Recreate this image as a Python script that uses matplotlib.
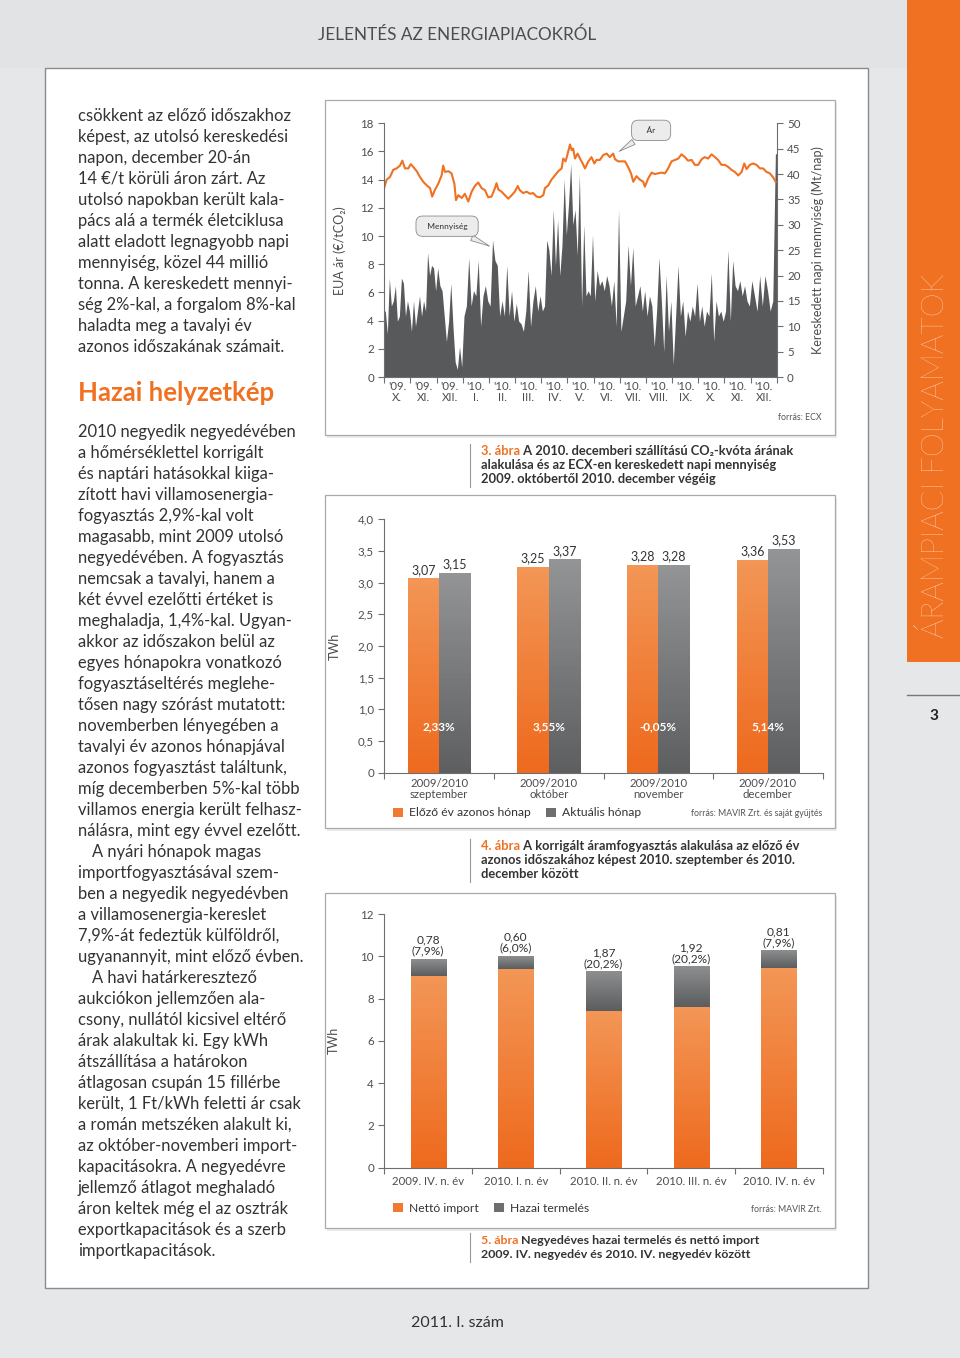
import numpy as np
import matplotlib.pyplot as plt
from matplotlib.colors import LinearSegmentedColormap
from matplotlib.patches import Rectangle, Patch

plt.rcParams['font.family'] = ['Lato', 'DejaVu Sans']

W, H = 960, 1358
ORANGE = '#f07122'
TXT = '#333333'
AXC = '#6d6e71'
LBL = '#4d4d4f'

# ---------------- 3. ábra: CO2 price and traded volume ----------------
month_labels = ["'09.\nX.", "'09.\nXI.", "'09.\nXII.", "'10.\nI.", "'10.\nII.",
                "'10.\nIII.", "'10.\nIV.", "'10.\nV.", "'10.\nVI.", "'10.\nVII.",
                "'10.\nVIII.", "'10.\nIX.", "'10.\nX.", "'10.\nXI.", "'10.\nXII."]

# time in months since 1 Oct 2009
price_t = [0.00, 0.09, 0.22, 0.34, 0.47, 0.60, 0.69, 0.79, 0.92, 1.01,
           1.11, 1.24, 1.36, 1.49, 1.62, 1.75, 1.83, 1.94, 2.06, 2.19,
           2.25, 2.32, 2.45, 2.57, 2.68, 2.74, 2.83, 2.96, 3.08, 3.21,
           3.34, 3.46, 3.59, 3.72, 3.85, 3.97, 4.10, 4.23, 4.29, 4.36,
           4.48, 4.61, 4.74, 4.87, 4.99, 5.10, 5.18, 5.31, 5.44, 5.57,
           5.69, 5.82, 5.95, 6.08, 6.14, 6.27, 6.39, 6.52, 6.65, 6.78,
           6.84, 6.93, 7.01, 7.10, 7.16, 7.22, 7.29, 7.39, 7.48, 7.57,
           7.67, 7.80, 7.92, 8.03, 8.11, 8.24, 8.37, 8.50, 8.62, 8.75,
           8.82, 8.94, 9.07, 9.20, 9.32, 9.43, 9.52, 9.64, 9.77, 9.90,
           9.96, 10.09, 10.22, 10.34, 10.47, 10.60, 10.73, 10.85, 10.98, 11.11,
           11.24, 11.36, 11.49, 11.61, 11.75, 11.87, 12.00, 12.13, 12.25, 12.38,
           12.51, 12.64, 12.76, 12.89, 13.02, 13.15, 13.27, 13.40, 13.53, 13.66,
           13.76, 13.85, 13.97, 14.10, 14.23, 14.36, 14.48, 14.61, 14.74, 14.87,
           14.96]
price = [13.45, 14.0, 14.2, 14.7, 14.8, 15.0, 15.35, 14.8, 14.8, 15.1,
         14.9, 14.6, 14.2, 13.85, 13.6, 13.4, 12.8, 13.3, 13.7, 14.3,
         15.0, 14.55, 14.6, 14.45, 13.7, 12.55, 12.9, 12.7, 13.0, 12.45,
         13.15, 13.55, 13.8, 13.4, 13.25, 12.75, 12.8, 13.4, 13.75, 13.3,
         13.15, 12.9, 12.65, 12.9, 13.15, 13.55, 13.25, 13.05, 13.15, 13.0,
         13.05, 12.8, 12.75, 12.9, 13.4, 13.6, 14.0, 14.3, 14.6, 14.8,
         15.5, 15.3, 15.85, 16.5, 16.1, 16.2, 15.5, 15.85, 15.5, 15.2,
         14.8, 15.3, 15.6, 15.15, 15.4, 15.4, 15.75, 15.85, 15.6, 15.85,
         15.45, 15.3, 15.3, 15.3, 14.9, 14.45, 13.85, 14.25, 14.0, 13.85,
         13.5, 14.1, 14.5, 14.4, 14.45, 14.5, 14.45, 14.8, 15.3, 15.4,
         15.5, 15.8, 15.6, 15.35, 15.4, 15.05, 15.05, 15.45, 15.6, 15.5,
         15.8, 15.6, 15.4, 15.05, 15.05, 14.9, 14.7, 14.55, 14.3, 14.55,
         15.15, 14.75, 15.05, 15.15, 15.05, 14.8, 14.8, 14.55, 14.45, 14.15,
         13.85]

# daily traded volume (Mt), read per month
vol_oct09 = [13, 8.5, 19.5, 14, 15, 18, 11, 12, 19.5, 18.5, 12, 15, 13]
vol_nov09 = [9, 15, 10, 13, 16, 12, 15, 13, 24.5, 20, 22, 21.5, 17]
vol_dec09 = [21.5, 18, 17, 12, 7, 11, 18.5, 10, 3, 1.5, 6, 2]
vol_jan10 = [12, 14, 23.5, 14, 17, 16, 23, 10, 16, 18, 15]
vol_feb10 = [14, 27, 23, 22, 12, 15, 12, 22, 12, 17, 11]
vol_mar10 = [14.5, 11, 10.5, 9, 13, 21, 10, 15, 18, 13, 16]
vol_apr10 = [13, 14, 27, 25, 20, 33, 22, 31, 20, 26, 39, 28]
vol_may10 = [34, 42, 30, 33, 24, 40, 14, 30, 16, 17, 16, 28]
vol_jun10 = [15, 21, 18, 19, 17, 20, 18, 14, 19, 10, 33]
vol_jul10 = [9, 12, 15, 26, 18, 25.5, 14, 16, 18, 13, 17]
vol_aug10 = [12, 16, 14, 6, 13, 23.5, 15, 5, 20, 9, 15]
vol_sep10 = [2.5, 12, 22, 12, 15, 8, 13, 11, 14, 12, 18.5]
vol_oct10 = [11, 14, 10, 13, 12, 20.5, 7, 15, 12, 13, 11]
vol_nov10 = [13, 25, 11, 23, 18, 17, 19, 16, 18, 15, 14]
vol_dec10 = [19, 16, 13, 20, 14, 20, 17, 13, 15, 44]
volume_months = [vol_oct09, vol_nov09, vol_dec09, vol_jan10, vol_feb10,
                 vol_mar10, vol_apr10, vol_may10, vol_jun10, vol_jul10,
                 vol_aug10, vol_sep10, vol_oct10, vol_nov10, vol_dec10]

# ---------------- 4. ábra: corrected consumption ----------------
cons_months = ['2009/2010\nszeptember', '2009/2010\noktóber',
               '2009/2010\nnovember', '2009/2010\ndecember']
cons_prev = [3.07, 3.25, 3.28, 3.36]
cons_curr = [3.15, 3.37, 3.28, 3.53]
cons_change = ['2,33%', '3,55%', '-0,05%', '5,14%']

# ---------------- 5. ábra: quarterly production / import ----------------
quarters = ['2009. IV. n. év', '2010. I. n. év', '2010. II. n. év',
            '2010. III. n. év', '2010. IV. n. év']
orange_part = [9.09, 9.40, 7.39, 7.58, 9.44]
gray_part = [0.78, 0.60, 1.87, 1.92, 0.81]
gray_share = ['7,9%', '6,0%', '20,2%', '20,2%', '7,9%']

# ---------------- body text ----------------
para1 = ["csökkent az előző időszakhoz", "képest, az utolsó kereskedési",
         "napon, december 20-án", "14 €/t körüli áron zárt. Az",
         "utolsó napokban került kala-", "pács alá a termék életciklusa",
         "alatt eladott legnagyobb napi", "mennyiség, közel 44 millió",
         "tonna. A kereskedett mennyi-", "ség 2%-kal, a forgalom 8%-kal",
         "haladta meg a tavalyi év", "azonos időszakának számait."]
para2 = ["2010 negyedik negyedévében", "a hőmérséklettel korrigált",
         "és naptári hatásokkal kiiga-", "zított havi villamosenergia-",
         "fogyasztás 2,9%-kal volt", "magasabb, mint 2009 utolsó",
         "negyedévében. A fogyasztás", "nemcsak a tavalyi, hanem a",
         "két évvel ezelőtti értéket is", "meghaladja, 1,4%-kal. Ugyan-",
         "akkor az időszakon belül az", "egyes hónapokra vonatkozó",
         "fogyasztáseltérés meglehe-", "tősen nagy szórást mutatott:",
         "novemberben lényegében a", "tavalyi év azonos hónapjával",
         "azonos fogyasztást találtunk,", "míg decemberben 5%-kal több",
         "villamos energia került felhasz-", "nálásra, mint egy évvel ezelőtt."]
para3 = ["A nyári hónapok magas", "importfogyasztásával szem-",
         "ben a negyedik negyedévben", "a villamosenergia-kereslet",
         "7,9%-át fedeztük külföldről,", "ugyanannyit, mint előző évben.",
         "A havi határkeresztező", "aukciókon jellemzően ala-",
         "csony, nullától kicsivel eltérő", "árak alakultak ki. Egy kWh",
         "átszállítása a határokon", "átlagosan csupán 15 fillérbe",
         "került, 1 Ft/kWh feletti ár csak", "a román metszéken alakult ki,",
         "az október-novemberi import-", "kapacitásokra. A negyedévre",
         "jellemző átlagot meghaladó", "áron keltek még el az osztrák",
         "exportkapacitások és a szerb", "importkapacitások."]


def hu(v, d=2):
    return f'{v:.{d}f}'.replace('.', ',')


def px_rect(x0, y0, x1, y1):
    return [x0 / W, 1 - y1 / H, (x1 - x0) / W, (y1 - y0) / H]


def grad_bar(ax, x0, x1, y0, y1, c_top, c_bot):
    cmap = LinearSegmentedColormap.from_list('g', [c_bot, c_top])
    ax.imshow(np.linspace(0, 1, 64).reshape(-1, 1), extent=(x0, x1, y0, y1),
              origin='lower', cmap=cmap, aspect='auto', zorder=2)


def style_axis(ax):
    for s in ax.spines.values():
        s.set_color(AXC)
        s.set_linewidth(0.8)
    ax.tick_params(colors=AXC, labelcolor=LBL, labelsize=8.3, width=0.8,
                   length=4, direction='out')


fig = plt.figure(figsize=(W / 100, H / 100), dpi=100)
fig.patch.set_facecolor('#e6e7e8')
bg = fig.add_axes([0, 0, 1, 1])
bg.set_xlim(0, W)
bg.set_ylim(H, 0)
bg.axis('off')

# page
bg.add_patch(Rectangle((0, 0), W, 68, fc='#e2e3e4', ec='none'))
bg.add_patch(Rectangle((45, 68), 823, 1220, fc='white', ec='#8a8b8d', lw=1))
bg.text(457, 35, 'JELENTÉS AZ ENERGIAPIACOKRÓL', ha='center', va='center',
        fontsize=12.3, color='#4d4d4f')
bg.text(457, 1323, '2011. I. szám', ha='center', va='center',
        fontsize=11.5, color='#333333')

# side band
bg.add_patch(Rectangle((907, 0), 53, 662, fc=ORANGE, ec='none'))
bg.text(935, 456, 'ÁRAMPIACI FOLYAMATOK', rotation=90,
        ha='center', va='center', fontsize=22, color='#fff1e8',
        fontweight='light')
bg.plot([907, 960], [695, 695], color='#777777', lw=1)
bg.text(934, 716, '3', ha='center', va='center', fontsize=11,
        color='#222222', fontweight='bold')

# body text
BODY = 11.9
y = 116
for line in para1:
    bg.text(78, y, line, fontsize=BODY, color=TXT, va='center')
    y += 21
bg.text(78, 393, 'Hazai helyzetkép', fontsize=18.5, color=ORANGE,
        fontweight='bold', va='center')
y = 432
for line in para2:
    bg.text(78, y, line, fontsize=BODY, color=TXT, va='center')
    y += 21
for i, line in enumerate(para3):
    bg.text(92 if i in (0, 6) else 78, y, line, fontsize=BODY, color=TXT,
            va='center')
    y += 21

# chart frames
for (x0, y0, x1, y1) in [(325, 100, 835, 435), (325, 495, 835, 828),
                         (325, 893, 835, 1228)]:
    bg.add_patch(Rectangle((x0 + 2, y0 + 3), x1 - x0, y1 - y0, fc='#ececec',
                           ec='none'))
    bg.add_patch(Rectangle((x0, y0), x1 - x0, y1 - y0, fc='white',
                           ec='#a7a9ac', lw=0.9))


def caption(y0, num, lines, size=9.3):
    bg.plot([470, 470], [y0 - 7, y0 + 14 * (len(lines) - 1) + 8],
            color='#999999', lw=0.8)
    t = bg.text(481, y0, num, color=ORANGE, fontweight='bold', fontsize=size,
                va='center')
    bg.annotate(' ' + lines[0], xy=(1, 0), xycoords=t, va='bottom',
                ha='left', fontsize=size, fontweight='bold', color=TXT)
    for k, ln in enumerate(lines[1:]):
        bg.text(481, y0 + 14 * (k + 1), ln, fontsize=size, fontweight='bold',
                color=TXT, va='center')


caption(451, '3. ábra', ['A 2010. decemberi szállítású CO₂-kvóta árának',
                         'alakulása és az ECX-en kereskedett napi mennyiség',
                         '2009. októbertől 2010. december végéig'])
caption(846, '4. ábra', ['A korrigált áramfogyasztás alakulása az előző év',
                         'azonos időszakához képest 2010. szeptember és 2010.',
                         'december között'])
caption(1240, '5. ábra', ['Negyedéves hazai termelés és nettó import',
                          '2009. IV. negyedév és 2010. IV. negyedév között'],
        size=8.9)

# ---------------- chart 3 ----------------
ax1 = fig.add_axes(px_rect(384.3, 123.3, 776.7, 377))
ax1v = ax1.twinx()
vt, vv = [], []
for m, vals in enumerate(volume_months):
    n = len(vals)
    for i, v in enumerate(vals):
        vt.append(m + (i + 0.5) / n)
        vv.append(v)
vt = [0] + vt + [15]
vv = [vv[0]] + vv + [vv[-1]]
ax1v.fill_between(vt, 0, vv, color='#58595b', lw=0)
ax1v.set_ylim(0, 50)
ax1v.set_yticks(range(0, 51, 5))
ax1.plot(price_t, price, color=ORANGE, lw=1.5)
ax1.set_ylim(0, 18)
ax1.set_yticks(range(0, 19, 2))
ax1.set_xlim(0, 15)
ax1.set_zorder(ax1v.get_zorder() + 1)
ax1.patch.set_visible(False)
style_axis(ax1)
style_axis(ax1v)
ax1.spines[['top', 'right']].set_visible(False)
ax1v.spines[['top', 'left', 'bottom']].set_visible(False)
ax1.set_xticks(range(16))
ax1.set_xticklabels([])
ax1.set_xticks(np.arange(15) + 0.5, minor=True)
ax1.set_xticklabels(month_labels, minor=True, fontsize=8.2, linespacing=0.95)
ax1.tick_params(axis='x', which='minor', length=0, pad=3, labelcolor=LBL)
ax1.set_ylabel('EUA ár (€/tCO₂)', fontsize=9, color=LBL, labelpad=10)
ax1v.set_ylabel('Kereskedett napi mennyiség (Mt/nap)', fontsize=9,
                color=LBL, labelpad=8)
box = dict(boxstyle='round,pad=0.8', fc='#ececec', ec='#8a8b8d', lw=0.6)
arr = dict(arrowstyle='wedge,tail_width=0.7', fc='#ececec', ec='#8a8b8d',
           lw=0.6)
ax1.annotate('  Mennyiség  ', xy=(4.12, 9.2), xytext=(2.4, 10.7),
             ha='center', va='center', fontsize=6, color='#333333',
             bbox=box, arrowprops=arr, zorder=5)
ax1.annotate('    Ár    ', xy=(8.89, 15.9), xytext=(10.2, 17.5),
             ha='center', va='center', fontsize=6, color='#333333',
             bbox=box, arrowprops=arr, zorder=5)
bg.text(822, 418, 'forrás: ECX', ha='right', va='center', fontsize=6.3,
        color='#555555')

# ---------------- chart 4 ----------------
ax2 = fig.add_axes(px_rect(384.3, 519.3, 822.7, 772.7))
bw = 0.286
O_TOP, O_BOT = '#f39656', '#ee6a1e'
G_TOP, G_BOT = '#939496', '#5e5f61'
for i in range(len(cons_prev)):
    grad_bar(ax2, i - bw, i, 0, cons_prev[i], O_TOP, O_BOT)
    grad_bar(ax2, i, i + bw, 0, cons_curr[i], G_TOP, G_BOT)
    ax2.text(i - bw / 2, cons_prev[i] + 0.04, hu(cons_prev[i]), ha='center',
             va='bottom', fontsize=9, color='#333333')
    ax2.text(i + bw / 2, cons_curr[i] + 0.04, hu(cons_curr[i]), ha='center',
             va='bottom', fontsize=9, color='#333333')
    ax2.text(i, 0.72, cons_change[i], ha='center', va='center', fontsize=8.5,
             color='white', fontweight='bold', zorder=4)
ax2.set_xlim(-0.5, 3.5)
ax2.set_ylim(0, 4)
style_axis(ax2)
ax2.spines[['top', 'right']].set_visible(False)
yt = np.arange(0, 4.01, 0.5)
ax2.set_yticks(yt)
ax2.set_yticklabels(['0'] + [hu(v, 1) for v in yt[1:]])
ax2.set_xticks(np.arange(-0.5, 3.6, 1))
ax2.set_xticklabels([])
ax2.set_xticks(range(4), minor=True)
ax2.set_xticklabels(cons_months, minor=True, fontsize=8.2, linespacing=1.0)
ax2.tick_params(axis='x', which='minor', length=0, pad=4, labelcolor=LBL)
ax2.set_ylabel('TWh', fontsize=9, color=LBL, labelpad=12)
ax2.legend(handles=[Patch(fc='#f07a30', label='Előző év azonos hónap'),
                    Patch(fc='#6d6e70', label='Aktuális hónap')],
           loc='center left', bbox_to_anchor=(382 / W, 1 - 813 / H),
           bbox_transform=fig.transFigure, ncol=2, frameon=False,
           fontsize=8.7, handlelength=0.8, handleheight=0.8,
           handletextpad=0.5, columnspacing=1.3, labelcolor='#333333')
bg.text(822, 814, 'forrás: MAVIR Zrt. és saját gyűjtés', ha='right',
        va='center', fontsize=6.3, color='#555555')

# ---------------- chart 5 ----------------
ax3 = fig.add_axes(px_rect(384.3, 914, 822.7, 1167.7))
bw3 = 0.4
for i in range(len(orange_part)):
    tot = orange_part[i] + gray_part[i]
    grad_bar(ax3, i - bw3 / 2, i + bw3 / 2, 0, orange_part[i], O_TOP, O_BOT)
    grad_bar(ax3, i - bw3 / 2, i + bw3 / 2, orange_part[i], tot,
             '#8d8e90', '#5c5d5f')
    ax3.text(i, tot + 0.12, f'{hu(gray_part[i])}\n({gray_share[i]})',
             ha='center', va='bottom', fontsize=8.6, color='#333333',
             linespacing=1.0)
ax3.set_xlim(-0.5, 4.5)
ax3.set_ylim(0, 12)
style_axis(ax3)
ax3.spines[['top', 'right']].set_visible(False)
ax3.set_yticks(range(0, 13, 2))
ax3.set_xticks(np.arange(-0.5, 4.6, 1))
ax3.set_xticklabels([])
ax3.set_xticks(range(5), minor=True)
ax3.set_xticklabels(quarters, minor=True, fontsize=8.2)
ax3.tick_params(axis='x', which='minor', length=0, pad=6, labelcolor=LBL)
ax3.set_ylabel('TWh', fontsize=9, color=LBL, labelpad=15)
ax3.legend(handles=[Patch(fc='#f07a30', label='Nettó import'),
                    Patch(fc='#6d6e70', label='Hazai termelés')],
           loc='center left', bbox_to_anchor=(382 / W, 1 - 1208 / H),
           bbox_transform=fig.transFigure, ncol=2, frameon=False,
           fontsize=8.7, handlelength=0.8, handleheight=0.8,
           handletextpad=0.5, columnspacing=1.3, labelcolor='#333333')
bg.text(822, 1209, 'forrás: MAVIR Zrt.', ha='right', va='center',
        fontsize=6.3, color='#555555')

fig.savefig('out.png', dpi=100, facecolor=fig.get_facecolor())
